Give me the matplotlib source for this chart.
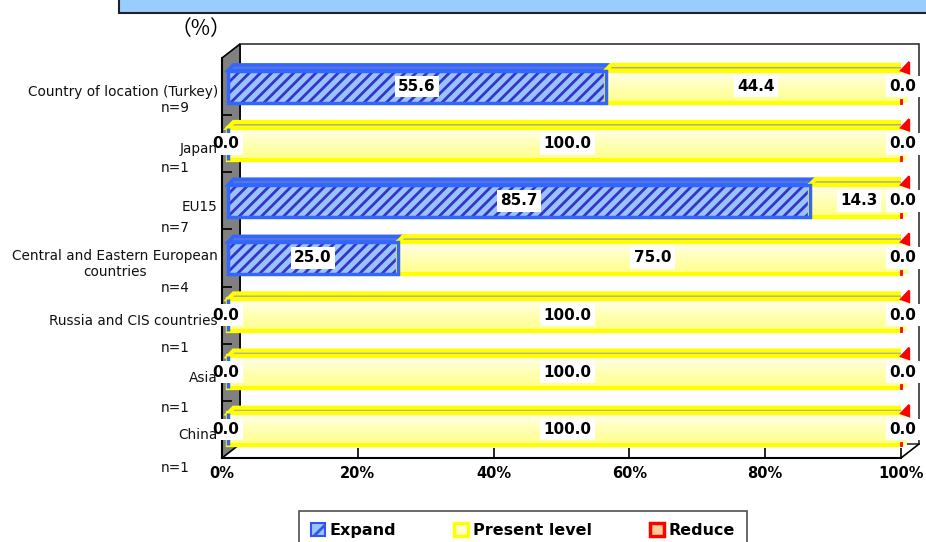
import numpy as np
import matplotlib
matplotlib.use("Agg")
import matplotlib.pyplot as plt
from matplotlib.patches import Polygon, Rectangle, Patch
from matplotlib.lines import Line2D

categories = ["Country of location (Turkey)", "Japan", "EU15",
              "Central and Eastern European\ncountries",
              "Russia and CIS countries", "Asia", "China"]
n_labels = ["n=9", "n=1", "n=7", "n=4", "n=1", "n=1", "n=1"]
expand = [55.6, 0.0, 85.7, 25.0, 0.0, 0.0, 0.0]
present = [44.4, 100.0, 14.3, 75.0, 100.0, 100.0, 100.0]
reduce_ = [0.0, 0.0, 0.0, 0.0, 0.0, 0.0, 0.0]
series_names = ["Expand", "Present level", "Reduce"]
xticks = [0, 20, 40, 60, 80, 100]
xtick_labels = ["0%", "20%", "40%", "60%", "80%", "100%"]

plt.rcParams["hatch.linewidth"] = 2.0

W, H = 926, 542
fig = plt.figure(figsize=(W / 100, H / 100), dpi=100)

# front plane of plot area (pixels)
L, R, T, B = 222, 901, 58, 458
ax = fig.add_axes([L / W, 1 - B / H, (R - L) / W, (B - T) / H])

# 3D depth offsets (axes fraction)
dxa = 18 / (R - L)
dya = 14 / (B - T)

# back wall
ax.add_patch(Rectangle((dxa, dya), 1, 1, transform=ax.transAxes, facecolor="white",
                       edgecolor="#333333", lw=1.2, clip_on=False, zorder=0))
# left side wall (grey)
ax.add_patch(Polygon([(0, 0), (0, 1), (dxa, 1 + dya), (dxa, dya)], closed=True,
                     transform=ax.transAxes, facecolor="#808080", edgecolor="black",
                     lw=1.2, clip_on=False, zorder=0.5))
# floor diagonal at right
ax.add_line(Line2D([1, 1 + dxa], [0, dya], transform=ax.transAxes, color="black",
                   lw=1.2, clip_on=False, zorder=0.5))

ax.patch.set_visible(False)
for s in ["top", "right"]:
    ax.spines[s].set_visible(False)
ax.spines["left"].set_linewidth(1.5)
ax.spines["bottom"].set_linewidth(1.5)

y = np.arange(len(categories))
h = 0.56
shift = 0.9
ddx = 0.8    # top face depth in data x
ddy = 0.10   # top face depth in data y

exp = np.array(expand)
pre = np.array(present)
red = np.array(reduce_)

# Expand bars: hatch
ax.barh(y, exp, left=shift, height=h, color="#99C4FF", edgecolor="#3535CC",
        hatch="///", linewidth=0, zorder=2)
ax.barh(y, exp, left=shift, height=h, facecolor="none", edgecolor="#3366FF",
        linewidth=2.5, zorder=3)

# Present bars with gradient
pres_bars = ax.barh(y, pre, left=exp + shift, height=h, color="#FFFFB0",
                    edgecolor="#FFFF00", linewidth=3, zorder=2)
gvals = np.linspace(1, 0, 50) ** 1.3
cm = matplotlib.colors.LinearSegmentedColormap.from_list("yl", ["#FFFF90", "#FFFFEE"])
for bar in pres_bars:
    x0, y0 = bar.get_x(), bar.get_y()
    bw, bh = bar.get_width(), bar.get_height()
    im = ax.imshow(gvals[:, None], extent=[x0, x0 + bw, y0 + bh, y0], aspect="auto",
                   cmap=cm, vmin=0, vmax=1, zorder=2.1, interpolation="bilinear")
    im.set_clip_path(bar)
    ax.add_patch(Rectangle((x0, y0), bw, bh, facecolor="none", edgecolor="#FFFF00",
                           lw=3, zorder=2.2))

ax.set_xlim(0, 100)
ax.set_ylim(len(categories) - 0.5, -0.5)

# Reduce (zero width)
ax.barh(y, red, left=exp + pre + shift - 0.9, height=h, color="#FFCC99",
        edgecolor="#FF0000", linewidth=0, zorder=2)


def top_face(x0, w, yc, fc, ec, hatch=None, lw=2.5):
    yt = yc - h / 2
    poly = Polygon([(x0, yt), (x0 + ddx, yt - ddy), (x0 + w + ddx, yt - ddy), (x0 + w, yt)],
                   closed=True, facecolor=fc, edgecolor=ec, lw=lw, hatch=hatch, zorder=1.8)
    ax.add_patch(poly)


for i in range(len(categories)):
    if exp[i] > 0:
        top_face(shift, exp[i], y[i], "#5577DD", "#3366FF")
    if pre[i] > 0:
        top_face(shift + exp[i], pre[i], y[i], "#A8A8A0", "#FFFF00", lw=3)
    # red corner of the zero-width Reduce segment
    xr = shift + exp[i] + pre[i] - 0.9 + red[i]
    yt = y[i] - h / 2
    ax.add_patch(Polygon([(xr, yt), (xr + ddx + 0.4, yt - ddy - 0.05), (xr + ddx + 0.4, yt + 0.05)],
                         closed=True, facecolor="#FF0000", edgecolor="#FF0000", lw=1.5,
                         zorder=2.3, clip_on=False))
    ax.add_line(Line2D([xr, xr], [y[i] + h / 2 - 0.05, y[i] + h / 2], color="#FF0000",
                       lw=2, zorder=2.3, clip_on=False))

# value labels
lab_kw = dict(ha="center", va="center", fontsize=11, fontweight="bold", zorder=5,
              bbox=dict(boxstyle="square,pad=0.22", facecolor="white", edgecolor="none"))
for i in range(len(categories)):
    xe = shift + exp[i] / 2 if exp[i] > 0 else 0.6
    ax.text(xe, y[i], f"{exp[i]:.1f}", **lab_kw, clip_on=False)
    ax.text(shift + exp[i] + pre[i] / 2, y[i], f"{pre[i]:.1f}", **lab_kw, clip_on=False)
    ax.text(shift + exp[i] + pre[i] + red[i] / 2 - 0.6, y[i], f"{red[i]:.1f}", **lab_kw,
            clip_on=False)

# category labels
for i, (c, n) in enumerate(zip(categories, n_labels)):
    ax.text(-0.006, y[i] + 0.1, c, transform=ax.get_yaxis_transform(), ha="right",
            va="center", multialignment="center", fontsize=9.8, color="#111111",
            zorder=6)
    ax.text(-0.047, y[i] + 0.38 + 0.048 * i, n, transform=ax.get_yaxis_transform(),
            ha="right", va="center", fontsize=9.8, color="#111111")

ax.set_yticks(np.arange(len(categories) - 1) + 0.5)
ax.set_yticklabels([])
ax.tick_params(axis="y", direction="in", length=7, width=1.2)
ax.set_xticks(xticks)
ax.set_xticklabels(xtick_labels, fontsize=10.5, fontweight="bold")
ax.tick_params(axis="x", direction="in", length=7, width=1.2, pad=6)

# title box at top
fig.patches.append(Rectangle((119 / W, 1 - 13 / H), (W - 119 + 10) / W, 30 / H,
                             transform=fig.transFigure, facecolor="#99CCFF",
                             edgecolor="#222222", lw=1.5, figure=fig))
fig.text(201 / W, 1 - 29 / H, "（%）", ha="center", va="center", fontsize=15,
         family=["Noto Sans CJK JP", "DejaVu Sans"])

# legend
handles = [Patch(facecolor="#99C4FF", edgecolor="#3355EE", hatch="//", lw=1.5),
           Patch(facecolor="#FFFFD0", edgecolor="#FFFF00", lw=2.5),
           Patch(facecolor="#FFCC99", edgecolor="#FF0000", lw=2.5)]
leg = fig.legend(handles, series_names, loc="upper center",
                 bbox_to_anchor=(523 / W, 1 - 511 / H), ncol=3, frameon=True,
                 fancybox=False, edgecolor="#222222", handlelength=0.9, handleheight=0.9,
                 handletextpad=0.3, columnspacing=3.6, borderpad=0.75,
                 borderaxespad=0, prop=dict(weight="bold", size=11.5))
leg.get_frame().set_linewidth(1.2)

fig.savefig("out.png", dpi=100)
